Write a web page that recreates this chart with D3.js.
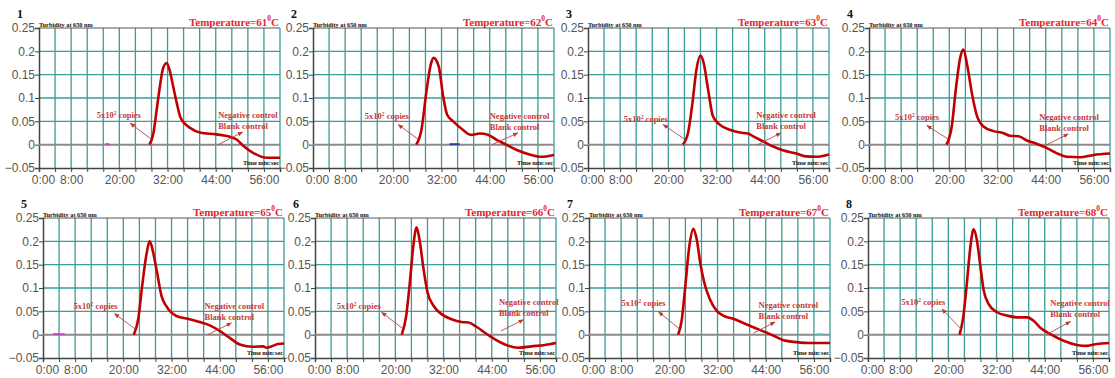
<!DOCTYPE html>
<html>
<head>
<meta charset="utf-8">
<script src="https://cdn.jsdelivr.net/npm/d3@7"></script>
<style>
  body { margin: 0; background: #fff; }
  svg { display: block; }
</style>
</head>
<body>
<svg id="chart" width="1115" height="378"></svg>
<script>
// panel titles
const panelNumbers = ["1", "2", "3", "4", "5", "6", "7", "8"];
const temperatures = [61, 62, 63, 64, 65, 66, 67, 68];

// axis ticks
const yTicks = [0.25, 0.2, 0.15, 0.1, 0.05, 0, -0.05];
const xLabelTicks = [0, 8, 20, 32, 44, 56];
const xTickLabels = ["0:00", "8:00", "20:00", "32:00", "44:00", "56:00"];

// turbidity curves (time in min, turbidity) for 5x10^2 copies
const curve1 = [[27.5,0],[28.5,0.025],[29.3,0.075],[30.1,0.125],[30.9,0.164],[31.8,0.175],[32.6,0.157],[33.4,0.125],[34.3,0.089],[35.1,0.061],[36.3,0.045],[37.6,0.036],[40,0.026],[44.2,0.022],[47.5,0.017],[49.2,0.011],[50.9,-0.003],[53.4,-0.018],[56.7,-0.028],[60,-0.028]];
const curve2 = [[25.7,0],[27,0.032],[28.2,0.111],[29.3,0.171],[30,0.186],[31.3,0.168],[32.4,0.104],[33.4,0.064],[34.9,0.05],[37.3,0.032],[39.4,0.021],[41.5,0.024],[43.6,0.021],[45.6,0.011],[48.1,0],[50.6,-0.011],[53.9,-0.021],[56.8,-0.026],[60,-0.022]];
const curve3 = [[23.6,0],[24.9,0.025],[26,0.089],[27,0.161],[28,0.191],[28.8,0.175],[29.9,0.118],[31.1,0.061],[32.8,0.043],[35.3,0.032],[37.8,0.026],[39.8,0.024],[41.5,0.016],[43.6,0.007],[46.1,-0.004],[48.5,-0.012],[51.9,-0.019],[54.2,-0.025],[56.8,-0.026],[60,-0.021]];
const curve4 = [[19.3,0],[20.6,0.039],[21.7,0.125],[22.7,0.186],[23.5,0.204],[24.5,0.168],[25.6,0.111],[26.8,0.064],[28.5,0.039],[31,0.029],[33.4,0.025],[35.1,0.019],[37.2,0.018],[39.3,0.009],[41.7,0.002],[44.2,-0.007],[46.7,-0.018],[49.2,-0.026],[52.5,-0.027],[55.9,-0.022],[60,-0.019]];
const curve5 = [[22.6,0],[23.7,0.033],[24.7,0.105],[25.7,0.169],[26.6,0.2],[27.4,0.177],[28.4,0.133],[29.5,0.083],[30.7,0.061],[33.2,0.04],[36.5,0.033],[39,0.027],[41.5,0.02],[44,0.008],[46.5,-0.007],[49,-0.021],[52.3,-0.026],[54.8,-0.025],[55.6,-0.028],[58.5,-0.02],[60,-0.019]];
const curve6 = [[21.6,0],[22.7,0.04],[23.7,0.12],[24.5,0.192],[25.3,0.23],[26.1,0.199],[27,0.142],[28,0.091],[29.5,0.062],[31.5,0.044],[34,0.033],[36.5,0.027],[38.2,0.026],[40.2,0.017],[42.3,0.004],[44.8,-0.01],[47.3,-0.021],[50.6,-0.028],[53.9,-0.025],[57.3,-0.022],[60,-0.018]];
const curve7 = [[22.2,0],[23.1,0.032],[23.9,0.097],[25,0.191],[26,0.227],[26.8,0.205],[27.8,0.148],[28.9,0.105],[30.1,0.076],[31.8,0.051],[33.4,0.041],[35.9,0.034],[38.4,0.025],[40.9,0.016],[43.4,0.007],[45.9,-0.002],[48.4,-0.012],[51.7,-0.016],[55,-0.018],[60,-0.018]];
const curve8 = [[22.8,0],[23.7,0.037],[24.6,0.109],[25.5,0.189],[26.3,0.226],[27.1,0.203],[28,0.145],[28.8,0.095],[30,0.066],[32.1,0.048],[34.6,0.041],[37.1,0.037],[39.6,0.037],[41.2,0.03],[42.9,0.015],[45.4,0.001],[48.7,-0.013],[52,-0.022],[54.5,-0.024],[57,-0.02],[60,-0.018]];
const curves = [curve1, curve2, curve3, curve4, curve5, curve6, curve7, curve8];

// short blank / negative control traces visible above the zero line
const blankTraces = [[0, 16.5, 17.5], [4, 2.5, 5.4]];
const negativeTraces = [[1, 34, 36.5], [6, 56.6, 58.3]];

// annotation anchors in data units
const copiesText = [[14.4,0.064],[12.9,0.061],[8.9,0.055],[6.5,0.06],[7.6,0.061],[5.4,0.061],[8.1,0.068],[8.3,0.07]];
const copiesTip = [[22.7,0.046],[21.2,0.043],[18.7,0.043],[14.4,0.041],[17.8,0.045],[16.6,0.048],[17.3,0.049],[18.4,0.055]];
const negText = [[44.6,0.064],[44,0.061],[41.9,0.064],[42.4,0.06],[40.2,0.061],[45.8,0.07],[42.2,0.063],[45.4,0.067]];
const negArrow = [[44.6,0,50.7,0.027],[44.6,0,51,0.025],[42.3,0,48,0.025],[43.4,-0.004,49.6,0.023],[41,0,46.9,0.025],[46.3,0.008,51.9,0.032],[40.9,0.003,46.3,0.027],[44.4,0,50.4,0.028]];

const panelLefts = [39, 313, 588, 869, 43, 315, 589, 868];
const rowTops = [28, 218];
const plotW = 241, plotH = 140;

const svg = d3.select("#chart");
const serif = "'Liberation Serif', 'Times New Roman', serif";
const sans = "'Liberation Sans', Arial, sans-serif";
const gridColor = "#3a9d98";

svg.append("defs").append("marker")
    .attr("id", "arrow")
    .attr("viewBox", "0 0 10 10")
    .attr("refX", 9).attr("refY", 5)
    .attr("markerWidth", 6).attr("markerHeight", 6)
    .attr("orient", "auto")
    .append("path")
    .attr("d", "M0,1L10,5L0,9z")
    .attr("fill", "#c0392b");

curves.forEach((data, i) => {
    const left = panelLefts[i];
    const top = rowTops[Math.floor(i / 4)];
    const x = d3.scaleLinear().domain([0, 60]).range([left, left + plotW]);
    const y = d3.scaleLinear().domain([-0.05, 0.25]).range([top + plotH, top]);
    const g = svg.append("g");

    // grid
    g.selectAll(".vg").data(d3.range(4, 61, 4)).enter().append("line")
        .attr("x1", d => x(d)).attr("x2", d => x(d))
        .attr("y1", y(0.25)).attr("y2", y(-0.05))
        .attr("stroke", gridColor).attr("stroke-width", 1.3);
    g.selectAll(".hg").data(yTicks.filter(d => d !== 0 && d !== -0.05 && d !== 0.25)).enter().append("line")
        .attr("x1", x(0)).attr("x2", x(60))
        .attr("y1", d => y(d)).attr("y2", d => y(d))
        .attr("stroke", gridColor).attr("stroke-width", 1.3);

    // frame
    g.append("line").attr("x1", x(0)).attr("x2", x(60)).attr("y1", y(0.25)).attr("y2", y(0.25))
        .attr("stroke", "#555").attr("stroke-width", 1);

    // axes
    const yAxis = g.append("g")
        .attr("transform", `translate(${x(0)},0)`)
        .call(d3.axisLeft(y).tickValues(yTicks).tickSize(4).tickFormat(d => d3.format("")(+d.toFixed(2))));
    const xAxis = g.append("g")
        .attr("transform", `translate(0,${y(-0.05)})`)
        .call(d3.axisBottom(x).tickValues(d3.range(0, 61, 4)).tickSize(4)
            .tickFormat(d => { const k = xLabelTicks.indexOf(d); return k >= 0 ? xTickLabels[k] : ""; }));
    [yAxis, xAxis].forEach(a => {
        a.select(".domain").attr("stroke", "#444").attr("stroke-width", 1.5);
        a.selectAll(".tick line").attr("stroke", "#444");
        a.selectAll("text").attr("font-family", sans).attr("font-size", 12).attr("fill", "#555");
    });
    yAxis.selectAll("text").attr("x", -4);
    xAxis.selectAll("text").attr("y", 7).attr("dx", d => d === 0 ? 4 : 0);

    // zero baseline
    g.append("line").attr("x1", x(0)).attr("x2", x(60)).attr("y1", y(0)).attr("y2", y(0))
        .attr("stroke", "#8a8a8a").attr("stroke-width", 2);

    blankTraces.filter(t => t[0] === i).forEach(t => {
        g.append("line").attr("x1", x(t[1])).attr("x2", x(t[2])).attr("y1", y(0.001)).attr("y2", y(0.001))
            .attr("stroke", "#d040c0").attr("stroke-width", 2);
    });
    negativeTraces.filter(t => t[0] === i).forEach(t => {
        g.append("line").attr("x1", x(t[1])).attr("x2", x(t[2])).attr("y1", y(0.001)).attr("y2", y(0.001))
            .attr("stroke", i === 1 ? "#3040a0" : "#60c0c0").attr("stroke-width", 2);
    });

    // curve
    g.append("path").datum(data)
        .attr("d", d3.line().x(d => x(d[0])).y(d => y(d[1])).curve(d3.curveMonotoneX))
        .attr("fill", "none").attr("stroke", "#c00000").attr("stroke-width", 2.6);

    // annotation arrows
    g.append("line")
        .attr("x1", x(data[0][0] + 0.4)).attr("y1", y(0.012))
        .attr("x2", x(copiesTip[i][0])).attr("y2", y(copiesTip[i][1]))
        .attr("stroke", "#b04848").attr("stroke-width", 0.9).attr("marker-end", "url(#arrow)");
    const na = negArrow[i];
    g.append("line")
        .attr("x1", x(na[0])).attr("y1", y(na[1]))
        .attr("x2", x(na[2])).attr("y2", y(na[3]))
        .attr("stroke", "#b04848").attr("stroke-width", 0.9).attr("marker-end", "url(#arrow)");

    const annColor = "#c8383c";
    const ct = g.append("text")
        .attr("x", x(copiesText[i][0])).attr("y", y(copiesText[i][1]) + 3)
        .attr("font-family", serif).attr("font-weight", "bold").attr("font-size", 8.5).attr("fill", annColor);
    ct.append("tspan").text("5x10");
    ct.append("tspan").attr("dy", -3).attr("font-size", 5.5).text("2");
    ct.append("tspan").attr("dy", 3).text(" copies");

    g.append("text")
        .attr("x", x(negText[i][0])).attr("y", y(negText[i][1]) + 3)
        .attr("font-family", serif).attr("font-weight", "bold").attr("font-size", 8.5).attr("fill", annColor)
        .text("Negative control");
    g.append("text")
        .attr("x", x(negText[i][0])).attr("y", y(negText[i][1]) + 14)
        .attr("font-family", serif).attr("font-weight", "bold").attr("font-size", 8.5).attr("fill", annColor)
        .text("Blank control");

    // labels
    g.append("text").attr("x", left - 22).attr("y", top - 10)
        .attr("font-family", serif).attr("font-weight", "bold").attr("font-size", 12).attr("fill", "#111")
        .text(panelNumbers[i]);
    g.append("text").attr("x", left).attr("y", top - 1)
        .attr("font-family", serif).attr("font-weight", "bold").attr("font-size", 6.3).attr("fill", "#111")
        .text("Turbidity at 650 nm");
    g.append("text").attr("x", left + plotW - 1).attr("y", top + plotH - 3)
        .attr("text-anchor", "end")
        .attr("font-family", serif).attr("font-weight", "bold").attr("font-size", 6.3).attr("fill", "#111")
        .text("Time min:sec");
    const tt = g.append("text").attr("x", left + plotW - 1).attr("y", top - 2)
        .attr("text-anchor", "end")
        .attr("font-family", serif).attr("font-weight", "bold").attr("font-size", 11).attr("fill", "#e3262b");
    tt.append("tspan").text("Temperature=" + temperatures[i]);
    tt.append("tspan").attr("dy", -5).attr("font-size", 7.5).text("0");
    tt.append("tspan").attr("dy", 5).text("C");
});
</script>
</body>
</html>
